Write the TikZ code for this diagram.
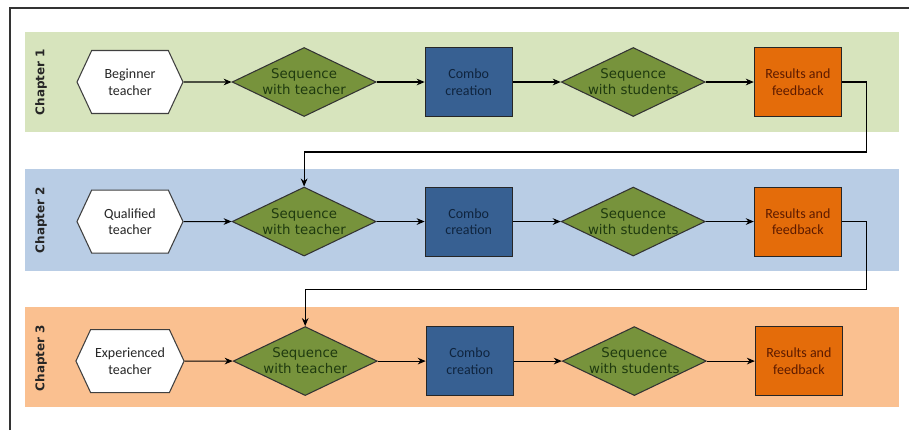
\documentclass[tikz,border=0pt]{standalone}
\usepackage{fontspec}
\setmainfont{Carlito}
\newfontfamily\dejavu{DejaVu Sans}
\usetikzlibrary{shapes.geometric, shapes.symbols, arrows.meta, positioning}
\definecolor{bandgreen}{HTML}{D7E4BD}
\definecolor{bandblue}{HTML}{B9CDE5}
\definecolor{bandorange}{HTML}{FAC090}
\definecolor{seqgreen}{HTML}{77933C}
\definecolor{seqtext}{HTML}{1F3A0F}
\definecolor{combofill}{HTML}{376092}
\definecolor{combotext}{HTML}{0F243E}
\definecolor{resfill}{HTML}{E46C0A}
\definecolor{restext}{HTML}{5C1A00}
\tikzstyle{teacher} = [signal, signal to=west and east, signal pointer angle=130, minimum width=79.5pt, minimum height=47.25pt, align=center, font=\fontsize{10.5}{12.5}\selectfont, draw=black!75, fill=white, text=black!85, line width=0.8pt]
\tikzstyle{sequence} = [diamond, minimum width=108pt, minimum height=51.75pt, inner sep=0pt, draw=black!80, fill=seqgreen, line width=0.8pt]
\tikzstyle{seqlabel} = [align=center, font=\dejavu, text=seqtext]
\tikzstyle{combo} = [rectangle, minimum width=65.25pt, minimum height=51.75pt, align=center, font=\fontsize{10.5}{12.5}\selectfont, draw=black!85, fill=combofill, text=combotext, line width=0.8pt]
\tikzstyle{results} = [rectangle, minimum width=65.25pt, minimum height=51.75pt, align=center, font=\fontsize{10.5}{12.5}\selectfont, draw=black!85, fill=resfill, text=restext, line width=0.8pt]
\tikzstyle{chapter} = [rotate=90, font=\dejavu\bfseries\small, text=black!85]
\tikzstyle{arrow} = [line width=0.8pt,->,>={Stealth[length=6pt,width=5pt]}]

\begin{document}
\begin{tikzpicture}[x=0.75pt, y=-0.75pt, node distance=36pt]
\useasboundingbox (0,0) rectangle (909,430);
% frame and chapter bands
\draw [black!80, line width=1.2pt] (10,430) -- (10,8) -- (909,8);
\fill [bandgreen] (25,32) rectangle (899,132);
\fill [bandblue] (25,169) rectangle (899,271);
\fill [bandorange] (25,307) rectangle (899,407);

\node (chap1) [chapter] at (41,82) {Chapter 1};
\node (chap2) [chapter] at (41,220) {Chapter 2};
\node (chap3) [chapter] at (41,358) {Chapter 3};

% chapter 1
\node (beg1) [teacher] at (130,82) {Beginner\\teacher};
\node (seq1) [sequence, right=of beg1, label={[seqlabel]center:Sequence\\with teacher}] {};
\node (combo1) [combo, right=of seq1] {Combo\\creation};
\node (stud1) [sequence, right=of combo1, label={[seqlabel]center:Sequence\\with students}] {};
\node (res1) [results, right=of stud1] {Results and\\feedback};

% chapter 2
\node (beg2) [teacher, below=56.6pt of beg1] {Qualified\\teacher};
\node (seq2) [sequence, right=of beg2, label={[seqlabel]center:Sequence\\with teacher}] {};
\node (combo2) [combo, right=of seq2] {Combo\\creation};
\node (stud2) [sequence, right=of combo2, label={[seqlabel]center:Sequence\\with students}] {};
\node (res2) [results, right=of stud2] {Results and\\feedback};

% chapter 3
\node (beg3) [teacher, below=56.6pt of beg2] {Experienced\\teacher};
\node (seq3) [sequence, right=of beg3, label={[seqlabel]center:Sequence\\with teacher}] {};
\node (combo3) [combo, right=of seq3] {Combo\\creation};
\node (stud3) [sequence, right=of combo3, label={[seqlabel]center:Sequence\\with students}] {};
\node (res3) [results, right=of stud3] {Results and\\feedback};

\foreach \r in {1,2,3} {
  \draw [arrow] (beg\r) -- (seq\r);
  \draw [arrow] (seq\r) -- (combo\r);
  \draw [arrow] (combo\r) -- (stud\r);
  \draw [arrow] (stud\r) -- (res\r);
}

\draw [arrow] (res1.east) -| ++(25,70) -| (seq2.north);
\draw [arrow] (res2.east) -| ++(25,68) -| (seq3.north);

\end{tikzpicture}
\end{document}
